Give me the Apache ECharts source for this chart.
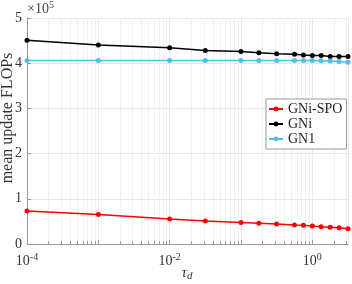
<!DOCTYPE html>
<html><head><meta charset="utf-8">
<script src="https://cdn.jsdelivr.net/npm/echarts@6/dist/echarts.min.js"></script>
<style>html,body{margin:0;padding:0;background:#fff}#c{width:352px;height:284px}</style>
</head><body><div id="c"></div>
<script>
var tau = [0.0001, 0.001, 0.01, 0.0316, 0.1, 0.178, 0.316, 0.562, 0.75, 1, 1.33, 1.78, 2.37, 3.16];
var gniSpo = [73000, 65000, 55500, 51000, 47500, 46000, 44000, 42000, 41500, 40000, 38000, 37000, 36000, 34000];
var gni = [451000, 440000, 434000, 428000, 426000, 423000, 421000, 420000, 418000, 417000, 417000, 415000, 415000, 415000];
var gn1 = [406000, 406000, 406000, 406000, 406000, 406000, 406000, 406000, 406000, 406000, 405500, 405000, 403500, 402000];
var yTicks = ['0', '1', '2', '3', '4', '5'];
var xTickExps = [-4, -2, 0];
var seriesNames = ['GNi-SPO', 'GNi', 'GN1'];

var SERIF = '"Liberation Serif","DejaVu Serif",serif';
var minorX = [];
for (var e = -4; e <= 0; e++) {
  for (var m = 2; m <= 9; m++) {
    var v = m * Math.pow(10, e);
    if (v <= 3.1623) minorX.push(v);
  }
}
function pair(arr) { return tau.map(function (t, i) { return [t, arr[i]]; }); }

var chart = echarts.init(document.getElementById('c'), null, {renderer: 'canvas'});
var lineBase = {type: 'line', symbol: 'circle', symbolSize: 5, lineStyle: {width: 1.5}, z: 5};
chart.setOption({
  animation: false,
  grid: {left: 27, right: 4, top: 18, bottom: 40, outerBoundsMode: 'none', containLabel: false},
  graphic: [{
    type: 'text', left: 27, top: 0,
    style: {
      text: '{a|×10}{s|5}',
      rich: {a: {fontFamily: SERIF, fontSize: 14, fill: '#444'}, s: {fontFamily: SERIF, fontSize: 10, fill: '#444', padding: [0, 0, 9, 0]}}
    }
  }, {
    type: 'text', x: 0, y: 118, rotation: Math.PI / 2,
    style: {
      text: 'mean update FLOPs', fontFamily: SERIF, fontSize: 16, fill: '#333',
      align: 'center', verticalAlign: 'top'
    }
  }, {
    type: 'text', x: 187, y: 265,
    style: {
      text: '{t|τ}{d|d}', align: 'center', verticalAlign: 'top',
      rich: {
        t: {fontFamily: SERIF, fontSize: 15, fontStyle: 'italic', fill: '#333'},
        d: {fontFamily: SERIF, fontSize: 11, fontStyle: 'italic', fill: '#333', padding: [6, 0, 0, 0]}
      }
    }
  }],
  xAxis: {
    type: 'log', logBase: 10, min: 0.0001, max: Math.pow(10, 0.5), interval: 1,
    axisLine: {show: true, lineStyle: {color: '#999', width: 1}},
    axisTick: {show: true, inside: true, length: 4, lineStyle: {color: '#999'}},
    axisLabel: {
      margin: 8, showMaxLabel: false,
      formatter: function (v) {
        var e = Math.round(Math.log10(v));
        if (Math.abs(Math.log10(v) - e) > 1e-6) return '';
        if (xTickExps.indexOf(e) < 0) return '';
        return '{b|10}{s|' + e + '}';
      },
      rich: {
        b: {fontFamily: SERIF, fontSize: 14, color: '#333'},
        s: {fontFamily: SERIF, fontSize: 10, color: '#333', padding: [0, 0, 9, 0]}
      }
    },
    splitLine: {show: true, lineStyle: {color: '#e8e8e8', width: 1}}
  },
  yAxis: {
    type: 'value', min: 0, max: 500000, interval: 100000,
    axisLine: {show: true, lineStyle: {color: '#999', width: 1}},
    axisTick: {show: true, inside: true, length: 4, lineStyle: {color: '#999'}},
    axisLabel: {margin: 5, fontFamily: SERIF, fontSize: 14, color: '#333',
      formatter: function (v) { return yTicks[Math.round(v / 100000)]; }},
    splitLine: {show: true, lineStyle: {color: '#e8e8e8', width: 1}}
  },
  legend: {
    left: 266, top: 99, orient: 'vertical', itemGap: 1, itemWidth: 14, itemHeight: 6,
    padding: [3, 4, 3, 2],
    backgroundColor: '#fff', borderColor: '#999', borderWidth: 1, borderRadius: 0,
    textStyle: {fontFamily: SERIF, fontSize: 14, color: '#222'},
    data: seriesNames
  },
  series: [
    Object.assign({}, lineBase, {name: seriesNames[0], color: '#ff0000', data: pair(gniSpo)}),
    Object.assign({}, lineBase, {name: seriesNames[1], color: '#000000', data: pair(gni)}),
    Object.assign({}, lineBase, {name: seriesNames[2], color: '#4dbeee', data: pair(gn1)}),
    {
      type: 'custom', silent: true, z: 1, clip: false,
      data: minorX.map(function (v) { return [v, 0]; }),
      renderItem: function (params, api) {
        var bottom = api.coord([api.value(0), 0]);
        var top = api.coord([api.value(0), 500000]);
        var x = Math.round(bottom[0]) + 0.5;
        return {
          type: 'group', children: [
            {type: 'line', shape: {x1: x, y1: top[1], x2: x, y2: bottom[1]},
             style: {stroke: '#f0f0f0', lineWidth: 1}},
            {type: 'line', shape: {x1: x, y1: bottom[1] - 3, x2: x, y2: bottom[1]},
             style: {stroke: '#999', lineWidth: 1}}
          ]
        };
      }
    }
  ]
});
</script></body></html>
